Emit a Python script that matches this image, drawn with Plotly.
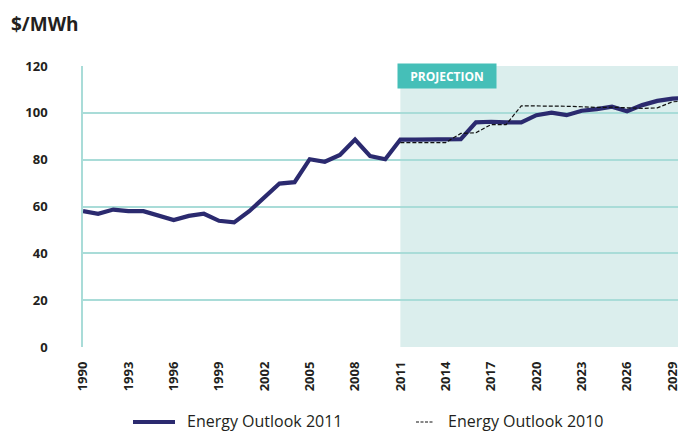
import plotly.graph_objects as go

years_2011 = list(range(1990, 2031))
eo2011 = [58.0, 56.9, 58.7, 58.0, 58.0, 56.0, 54.2, 56.0, 56.9, 53.9,
          53.2, 58.0, 64.1, 69.8, 70.4, 80.2, 79.1, 82.0, 88.6, 81.5,
          80.2, 88.6, 88.6, 88.6, 88.6, 88.8, 95.9, 96.2, 95.9, 95.9,
          99.0, 100.1, 99.0, 100.9, 101.6, 102.6, 100.7, 103.3, 105.1, 106.1,
          106.2]
years_2010 = list(range(2011, 2031))
eo2010 = [87.3, 87.3, 87.3, 87.3, 91.2, 91.5, 95.0, 95.0, 103.0, 103.0,
          103.0, 102.8, 102.6, 102.3, 102.4, 102.1, 101.9, 102.1, 104.7, 105.1]
x_ticks = list(range(1990, 2030, 3))
y_ticks = [0, 20, 40, 60, 80, 100, 120]
projection_start = 2011
series_names = ["Energy Outlook 2011", "Energy Outlook 2010"]

navy = "#2b2a6f"
grid = "#a9dcd8"
txt = "#231f20"
font_family = "Open Sans, Noto Sans, sans-serif"

OFF = 8  # page body margin
W, H = 686, 432
# plot area in screenshot pixels: left 83, top 66, bottom 347, right 686
L = 83 - OFF
T = 66 - OFF
B = H - (347 - OFF)
R = W - (686 - OFF)
pw, ph = W - L - R, H - T - B

def px_x(s):  # screenshot pixel -> paper x
    return (s - OFF - L) / pw

def px_y(s):  # screenshot pixel -> paper y
    return (H - B - (s - OFF)) / ph

fig = go.Figure()
fig.add_trace(go.Scatter(x=years_2011, y=eo2011, mode="lines", name=series_names[0],
                         line=dict(color=navy, width=4.2)))
fig.add_trace(go.Scatter(x=years_2010, y=eo2010, mode="lines", name=series_names[1],
                         line=dict(color="#111111", width=1.2, dash="4px,2px")))

fig.add_shape(type="rect", xref="x", yref="y", x0=projection_start, x1=2032, y0=0, y1=120,
              fillcolor="#dbeeed", line=dict(width=0), layer="below")

fig.add_annotation(x=projection_start, xref="x", xanchor="left", y=px_y(63), yref="paper", yanchor="top",
                   text="<b>PROJECTION</b>", showarrow=False, bgcolor="#45bfb8",
                   font=dict(color="white", size=12, family=font_family),
                   width=94, height=20, borderpad=2, align="center", xshift=-3)

fig.add_annotation(x=px_x(9), xref="paper", xanchor="left", y=px_y(24), yref="paper", yanchor="middle",
                   text="<b>$/MWh</b>", showarrow=False,
                   font=dict(color=txt, size=19, family=font_family))

# manual legend
leg_line_y = px_y(422)
leg_txt_y = px_y(421)
fig.add_shape(type="line", xref="paper", yref="paper", x0=px_x(133), x1=px_x(175), y0=leg_line_y, y1=leg_line_y,
              line=dict(color=navy, width=4))
fig.add_shape(type="line", xref="paper", yref="paper", x0=px_x(416), x1=px_x(433), y0=leg_line_y, y1=leg_line_y,
              line=dict(color="#111111", width=1.2, dash="3px,1.5px"))
fig.add_annotation(x=px_x(185), xref="paper", xanchor="left", y=leg_txt_y, yref="paper", yanchor="middle",
                   text=series_names[0], showarrow=False, font=dict(color=txt, size=16, family=font_family))
fig.add_annotation(x=px_x(446), xref="paper", xanchor="left", y=leg_txt_y, yref="paper", yanchor="middle",
                   text=series_names[1], showarrow=False, font=dict(color=txt, size=16, family=font_family))

fig.update_layout(
    width=W, height=H,
    margin=dict(l=L, r=R, t=T, b=B, autoexpand=False),
    plot_bgcolor="white", paper_bgcolor="white",
    font=dict(family=font_family, color=txt),
    showlegend=False,
    xaxis=dict(range=[1990, 2029.9], tickmode="array", tickvals=x_ticks,
               ticktext=[f"<b>{v}</b>" for v in x_ticks], tickangle=-90,
               tickfont=dict(size=13, color=txt), showgrid=False, zeroline=False,
               showline=False, ticks="", ticklabelstandoff=11, automargin=False),
    yaxis=dict(range=[0, 120], tickmode="array", tickvals=y_ticks,
               ticktext=[f"<b>{v}</b>" for v in y_ticks],
               tickfont=dict(size=13, color=txt), showgrid=True, gridcolor=grid, gridwidth=1.5,
               zeroline=False, showline=True, linecolor=grid, linewidth=1.5, mirror=False,
               ticks="", ticklabelstandoff=31, automargin=False),
)

fig.write_html("out.html")
